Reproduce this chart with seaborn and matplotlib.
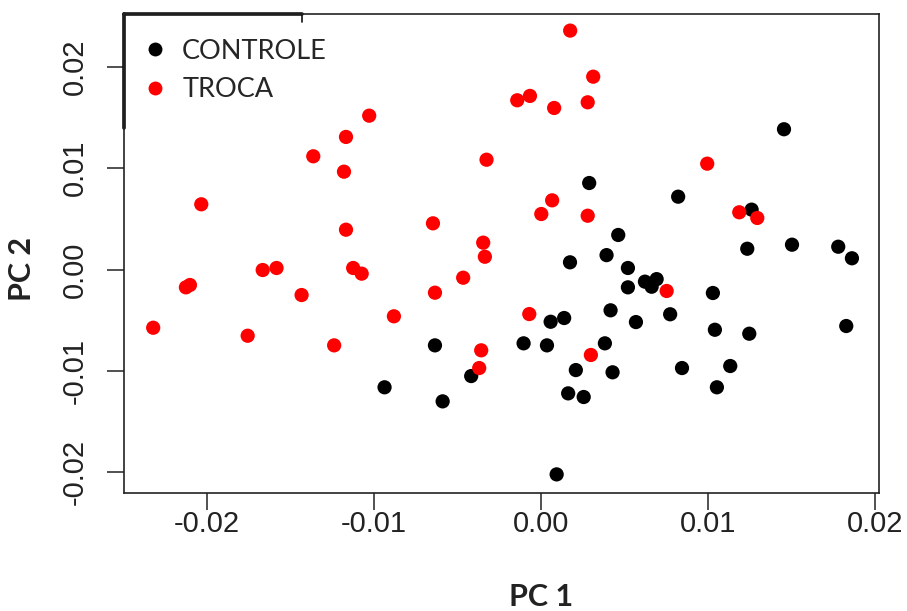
import matplotlib
matplotlib.use("Agg")
import matplotlib.pyplot as plt
import seaborn as sns
import pandas as pd
from matplotlib.lines import Line2D

# ---- data (PC scores) ----
troca_pc1 = [-0.02324, -0.02128, -0.02104, -0.02036, -0.01758, -0.01668, -0.01585, -0.01435,
             -0.01365, -0.01240, -0.01181, -0.01169, -0.01169, -0.01126, -0.01075, -0.01030,
             -0.00882, -0.00648, -0.00636, -0.00467, -0.00347, -0.00337, -0.00371, -0.00359,
             -0.00327, -0.00143, -0.00067, -0.00071, 0.00001, 0.00066, 0.00078, 0.00174,
             0.00279, 0.00312, 0.00279, 0.00298, 0.00752, 0.00995, 0.01187, 0.01295]
troca_pc2 = [-0.00575, -0.00176, -0.00153, 0.00644, -0.00654, -0.00005, 0.00015, -0.00252,
             0.01118, -0.00749, 0.00966, 0.01309, 0.00393, 0.00015, -0.00041, 0.01519,
             -0.00462, 0.00456, -0.00229, -0.00081, 0.00265, 0.00126, -0.00973, -0.00798,
             0.01084, 0.01671, 0.01714, -0.00440, 0.00548, 0.00683, 0.01595, 0.02359,
             0.01651, 0.01904, 0.00531, -0.00844, -0.00212, 0.01045, 0.00565, 0.00509]

controle_pc1 = [-0.00938, -0.00636, -0.00590, -0.00419, -0.00105, 0.00035, 0.00057, 0.00138,
                0.00173, 0.00093, 0.00162, 0.00255, 0.00208, 0.00288, 0.00462, 0.00392,
                0.00520, 0.00520, 0.00622, 0.00662, 0.00692, 0.00416, 0.00568, 0.00382,
                0.00428, 0.00773, 0.00821, 0.00844, 0.01029, 0.01041, 0.01053, 0.01133,
                0.01261, 0.01235, 0.01247, 0.01455, 0.01503, 0.01780, 0.01862, 0.01828]
controle_pc2 = [-0.01163, -0.00749, -0.01302, -0.01052, -0.00729, -0.00749, -0.00516, -0.00479,
                0.00071, -0.02023, -0.01223, -0.01259, -0.00993, 0.00854, 0.00341, 0.00142,
                0.00015, -0.00176, -0.00120, -0.00170, -0.00095, -0.00403, -0.00519, -0.00729,
                -0.01015, -0.00442, 0.00719, -0.00973, -0.00232, -0.00595, -0.01163, -0.00953,
                0.00591, 0.00205, -0.00634, 0.01385, 0.00245, 0.00225, 0.00111, -0.00558]

groups = ["CONTROLE", "TROCA"]
colors = {"CONTROLE": "#000000", "TROCA": "#ff0000"}
ticks = [-0.02, -0.01, 0.00, 0.01, 0.02]
tick_labels = ["-0.02", "-0.01", "0.00", "0.01", "0.02"]

df = pd.DataFrame({
    "PC 1": controle_pc1 + troca_pc1,
    "PC 2": controle_pc2 + troca_pc2,
    "grupo": [groups[0]] * len(controle_pc1) + [groups[1]] * len(troca_pc1),
})

sns.set_style("white")
plt.rcParams["font.family"] = ["Liberation Sans", "DejaVu Sans"]

fig = plt.figure(figsize=(9.07, 6.11), dpi=100)
ax = fig.add_axes([0.1367, 0.1931, 0.8324, 0.7840])

sns.scatterplot(data=df, x="PC 1", y="PC 2", hue="grupo", hue_order=groups,
                palette=colors, s=105, linewidth=0, edgecolor="none", ax=ax, legend=False)

ax.set_xlim(-0.02499, 0.02024)
ax.set_ylim(-0.02207, 0.02523)

ax.set_xticks(ticks)
ax.set_xticklabels(tick_labels)
ax.set_yticks(ticks)
ax.set_yticklabels(tick_labels, rotation=90, va="center")
ax.tick_params(axis="x", direction="out", length=12.5, width=1.1, colors="#222222",
               labelsize=21, pad=0, bottom=True)
ax.tick_params(axis="y", direction="out", length=12.5, width=1.1, colors="#222222",
               labelsize=21, pad=13, left=True)

for sp in ax.spines.values():
    sp.set_visible(True)
    sp.set_color("#222222")
    sp.set_linewidth(1.2)

ax.set_xlabel("PC 1", fontsize=22, fontweight="bold", family=["Lato", "DejaVu Sans"],
              color="#222222", va="center", ha="center")
ax.set_ylabel("PC 2", fontsize=22, fontweight="bold", family=["Lato", "DejaVu Sans"],
              color="#222222", va="center", ha="center")
ax.xaxis.set_label_coords(0.552, -0.217)
ax.yaxis.set_label_coords(-0.135, 0.468)

# legend
handles = [Line2D([], [], marker="o", linestyle="none", markersize=10,
                  markerfacecolor=colors[g], markeredgecolor="none") for g in groups]
leg = ax.legend(handles, groups, loc="upper left", bbox_to_anchor=(0.0, 0.985),
                frameon=False, prop={"family": ["Lato", "DejaVu Sans"], "size": 19.5},
                handletextpad=0.5, labelspacing=0.5, borderaxespad=0.35, handlelength=1.0,
                borderpad=0.3)

# partial legend box edges (top and left) as in the reference
ax.plot([0, 0.236], [1, 1], transform=ax.transAxes, color="#111111", lw=2.6, clip_on=False)
ax.plot([0, 0], [1, 0.762], transform=ax.transAxes, color="#111111", lw=2.6, clip_on=False)
ax.plot([0.236, 0.236], [1, 0.983], transform=ax.transAxes, color="#111111", lw=1.2, clip_on=False)

fig.savefig("out.png", dpi=100, facecolor="white")
